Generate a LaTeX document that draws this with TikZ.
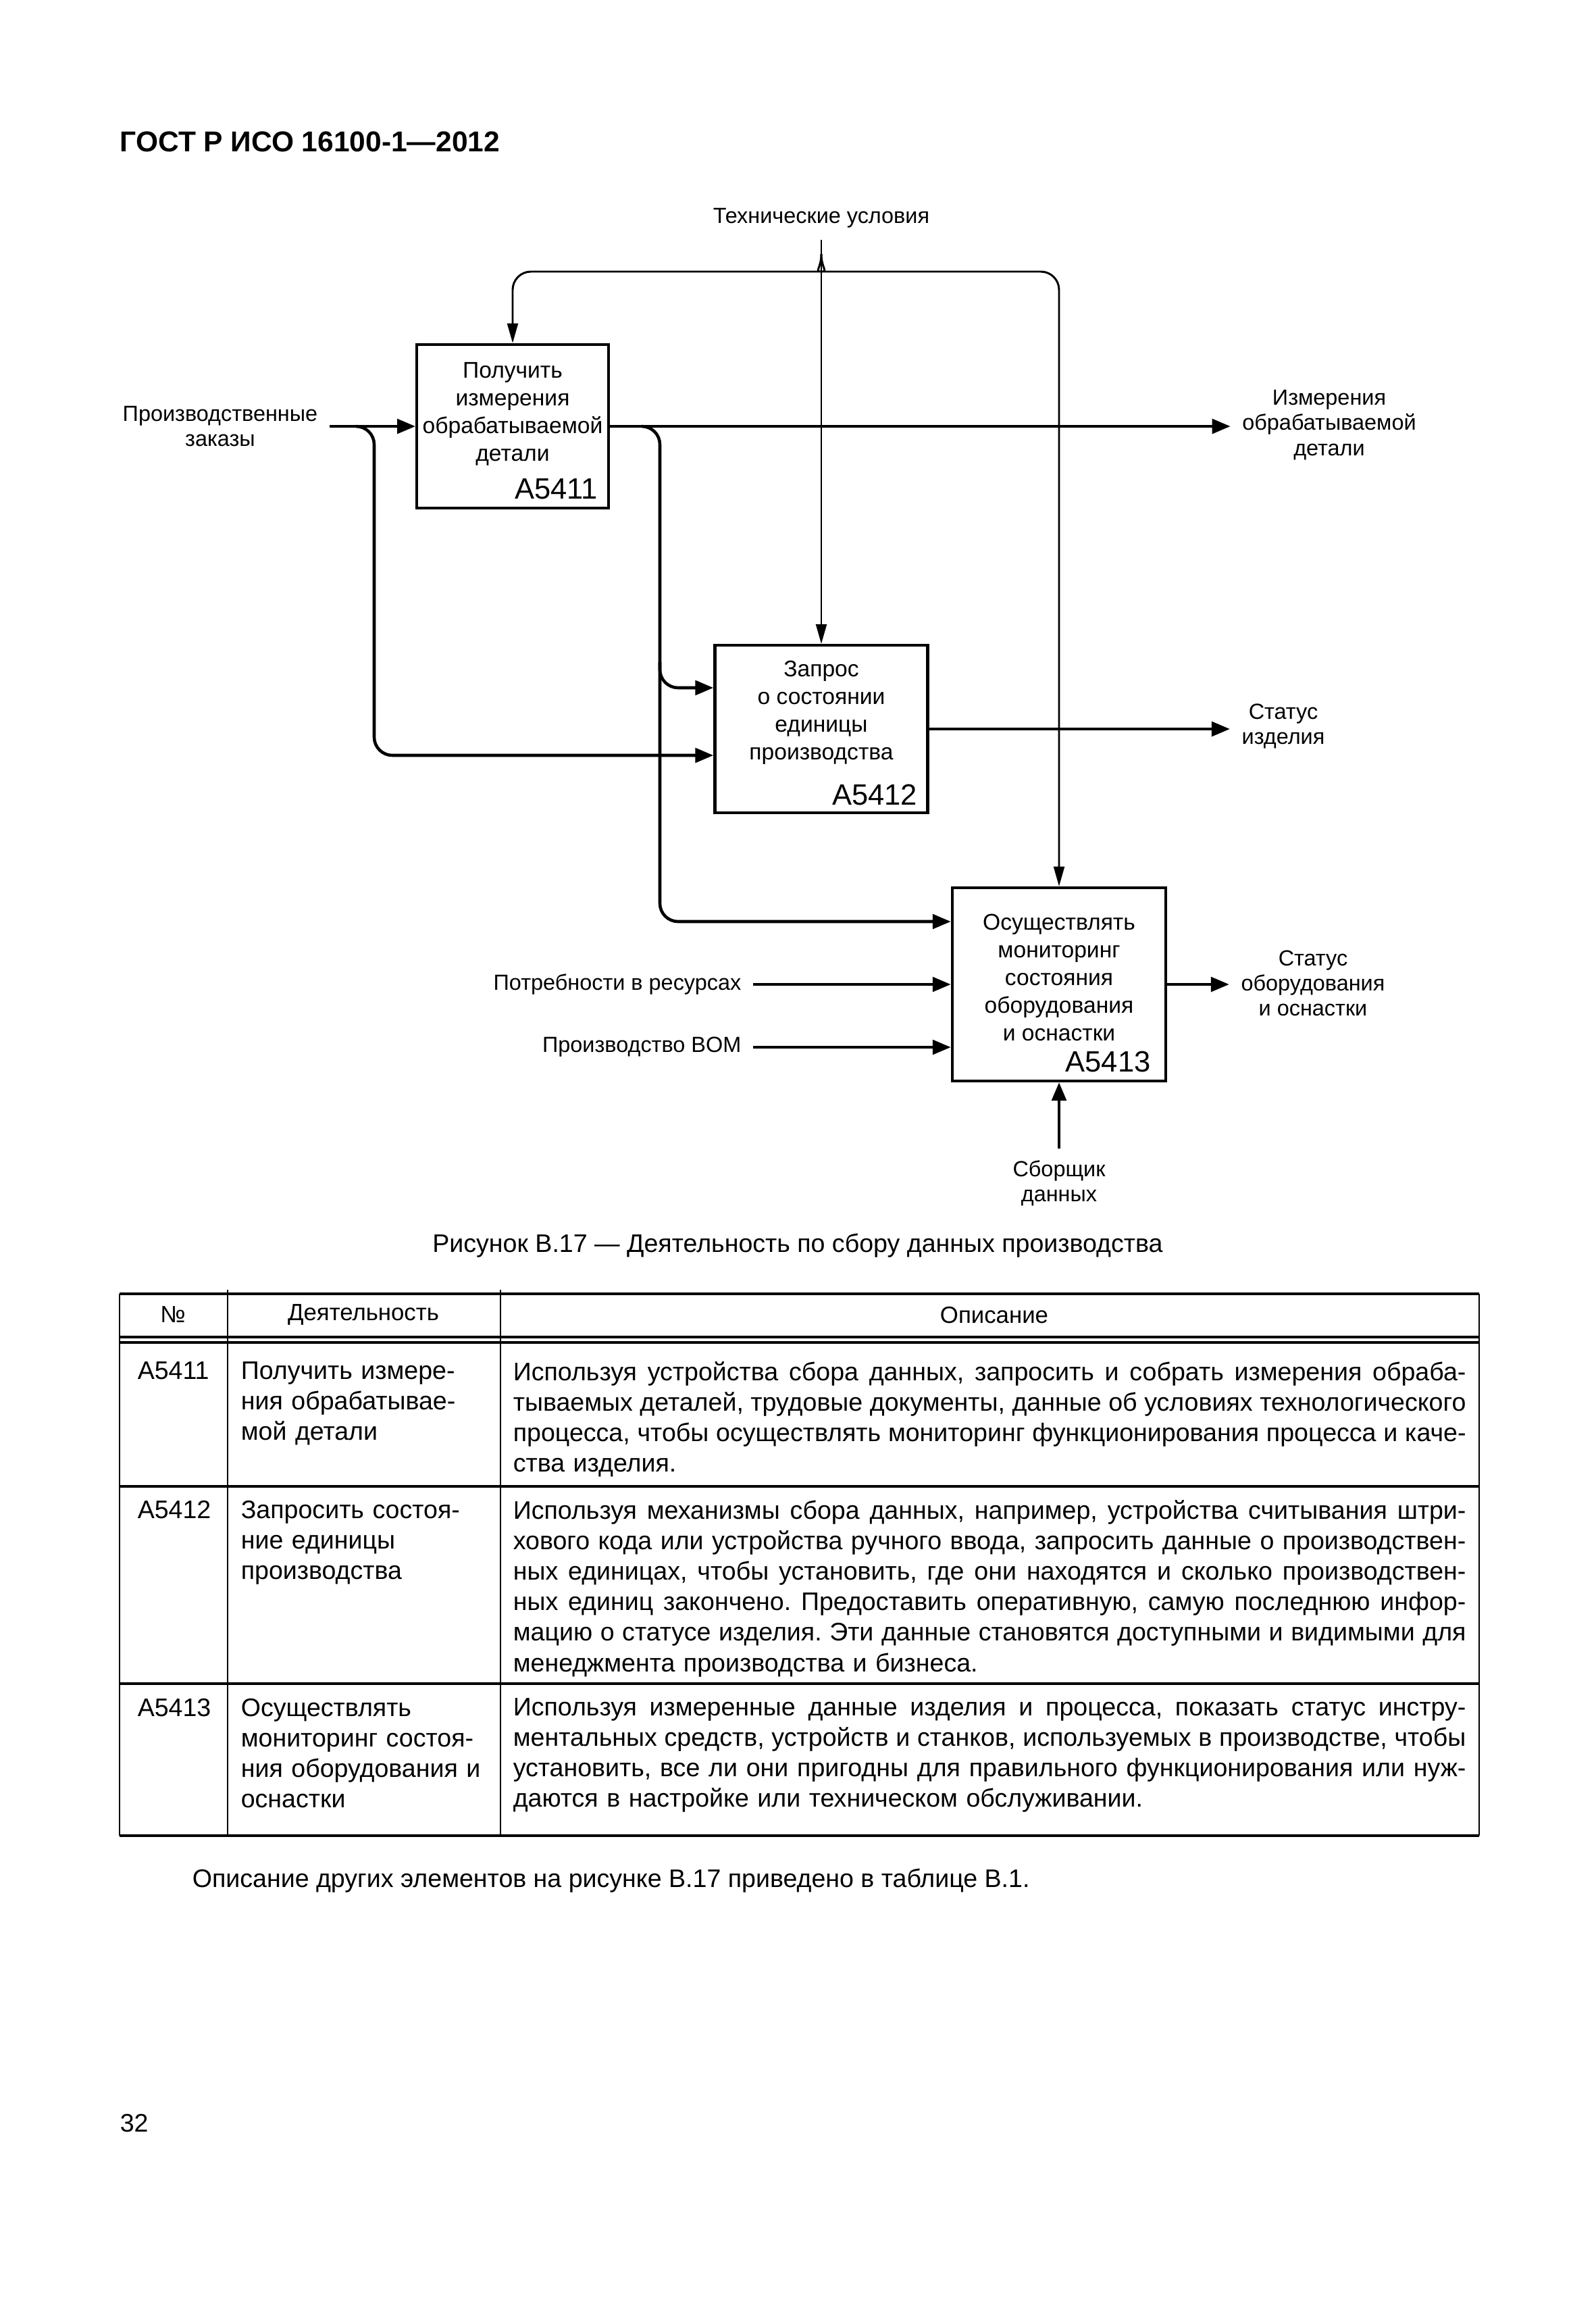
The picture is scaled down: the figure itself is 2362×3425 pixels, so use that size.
\documentclass[tikz,border=0pt]{standalone}
\usepackage{fontspec}
\setmainfont{Liberation Sans}
\usetikzlibrary{arrows.meta,positioning,calc}

\newcommand{\tfont}{\fontsize{9.5}{11.4}\selectfont\frenchspacing}
\newcommand{\jline}[1]{\leavevmode\hbox to\hsize{\spaceskip=.278em plus 1em minus .16em #1}}

\tikzset{
  box/.style={draw, line width=1.1pt, inner sep=0pt},
  btxt/.style={font=\fontsize{8.5}{10.4}\selectfont, align=center, inner sep=0pt},
  code/.style={font=\fontsize{11}{12}\selectfont, inner sep=0pt},
  lbl/.style={font=\fontsize{8.2}{9.4}\selectfont, align=center, inner sep=1.5mm},
  flow/.style={line width=1.15pt, rounded corners=2.4mm, -{Triangle[length=2.4mm,width=1.9mm]}},
  ctrl/.style={line width=0.75pt, rounded corners=2.4mm, -{Triangle[length=2.6mm,width=1.4mm]}},
  tline/.style={line width=0.9pt},
  vline/.style={line width=0.5pt},
  ttxt/.style={font=\tfont, inner sep=0pt},
  tpar/.style={font=\tfont, inner sep=0pt, align=left, anchor=north west},
}

\begin{document}
\begin{tikzpicture}[x=0.0889mm,y=-0.0889mm]
\useasboundingbox (0,0) rectangle (2362,3425);

\node[font=\fontsize{10.75}{13}\selectfont\bfseries, anchor=west, inner sep=0pt] (title) at (177,210) {ГОСТ Р ИСО 16100-1—2012};

\node[box, minimum width=25.2mm, minimum height=21.5mm] (a5411) at (759,631) {};
\node[box, minimum width=28mm, minimum height=22mm] (a5412) at (1216,1079) {};
\node[box, minimum width=28.1mm, minimum height=25.4mm] (a5413) at (1568,1457) {};

\node[btxt] (t5411) at (759,613) {Получить\\измерения\\обрабатываемой\\детали};
\node[btxt] (t5412) at (1216,1055) {Запрос\\о состоянии\\единицы\\производства};
\node[btxt] (t5413) at (1568,1447) {Осуществлять\\мониторинг\\состояния\\оборудования\\и оснастки};
\node[code, anchor=south east] (c5411) at ($(a5411.south east)+(-17,-14)$) {A5411};
\node[code, anchor=south east] (c5412) at ($(a5412.south east)+(-17,-12)$) {A5412};
\node[code, anchor=south east] (c5413) at ($(a5413.south east)+(-24,-14)$) {A5413};

\node[lbl] (spec) at (1216,323) {Технические условия};
\node[lbl] (orders) at (326,631) {Производственные\\заказы};
\node[lbl] (meas) at (1968,629) {Измерения\\обрабатываемой\\детали};
\node[lbl] (pstat) at (1900,1075) {Статус\\изделия};
\node[lbl] (estat) at (1944,1455) {Статус\\оборудования\\и оснастки};
\node[lbl, anchor=east] (needs) at (1115,1457) {Потребности в ресурсах};
\node[lbl, anchor=east] (bom) at (1115,1550) {Производство BOM};
\node[lbl] (collector) at (1568,1751) {Сборщик\\данных};

\coordinate (osplit) at (527,631);
\coordinate (msplit) at (950,631);
\coordinate (qsplit) at (977,980);
\coordinate (bsplit) at (1216,376);

\draw[ctrl] (spec.south) -- (spec.south |- a5412.north);
\draw[ctrl] (bsplit) .. controls (1216,396) and (1206,402) .. (1188,402) -- (a5411.north |- 0,402) -- (a5411.north);
\draw[ctrl] (bsplit) .. controls (1216,396) and (1226,402) .. (1244,402) -- (a5413.north |- 0,402) -- (a5413.north);

\draw[flow] (orders.east |- a5411.west) -- (a5411.west);
\draw[flow] (osplit) -| (554,1118) -- (a5412.west |- 0,1118);
\draw[flow] (a5411.east) -- (a5411.east -| meas.west);
\draw[flow] (msplit) -| (977,1364) -- (a5413.west |- 0,1364);
\draw[flow] (qsplit) |- (a5412.west |- 0,1018);
\draw[flow] (a5412.east) -- (a5412.east -| pstat.west);
\draw[flow] (a5413.east) -- (a5413.east -| estat.west);
\draw[flow] (needs.east) -- (needs.east -| a5413.west);
\draw[flow] (bom.east) -- (bom.east -| a5413.west);
\draw[flow] (collector.north) -- (collector.north |- a5413.south);

\node[ttxt] (caption) at (1181,1844) {Рисунок В.17 — Деятельность по сбору данных производства};

\foreach \y in {1915,1979,1987,2200,2492,2717}
  \draw[tline] (177,\y) -- (2190,\y);
\draw[vline] (177,1915) -- (177,2717) (2190,1915) -- (2190,2717);
\draw[vline] (337,1909) -- (337,2717) (741,1909) -- (741,2717);

\node[ttxt, font=\fontsize{8.8}{10}\selectfont] (hno) at (256,1946) {№};
\node[ttxt, font=\fontsize{8.8}{10}\selectfont] (hact) at (538,1946) {Деятельность};
\node[ttxt, font=\fontsize{8.8}{10}\selectfont] (hdesc) at (1472,1946) {Описание};

\node[ttxt, anchor=north west] (n1) at (203,2015) {A5411};
\node[tpar, text width=32.5mm] (p1) at (356,2015) {Получить измере-\\ния обрабатывае-\\мой детали};
\node[tpar, text width=125.4mm] (d1) at (759,2015) {\jline{Используя устройства сбора данных, запросить и собрать измерения обраба-}\\
\jline{тываемых деталей, трудовые документы, данные об условиях технологического}\\
\jline{процесса, чтобы осуществлять мониторинг функционирования процесса и каче-}\\
ства изделия.};

\node[ttxt, anchor=north west] (n2) at (203,2220) {A5412};
\node[tpar, text width=32.5mm] (p2) at (356,2220) {Запросить состоя-\\ние единицы\\производства};
\node[tpar, text width=125.4mm] (d2) at (759,2220) {\jline{Используя механизмы сбора данных, например, устройства считывания штри-}\\
\jline{хового кода или устройства ручного ввода, запросить данные о производствен-}\\
\jline{ных единицах, чтобы установить, где они находятся и сколько производствен-}\\
\jline{ных единиц закончено. Предоставить оперативную, самую последнюю инфор-}\\
\jline{мацию о статусе изделия. Эти данные становятся доступными и видимыми для}\\
менеджмента производства и бизнеса.};

\node[ttxt, anchor=north west] (n3) at (203,2513) {A5413};
\node[tpar, text width=32.5mm] (p3) at (356,2513) {Осуществлять\\мониторинг состоя-\\ния оборудования и\\оснастки};
\node[tpar, text width=125.4mm] (d3) at (759,2513) {\jline{Используя измеренные данные изделия и процесса, показать статус инстру-}\\
\jline{ментальных средств, устройств и станков, используемых в производстве, чтобы}\\
\jline{установить, все ли они пригодны для правильного функционирования или нуж-}\\
даются в настройке или техническом обслуживании.};

\node[ttxt, anchor=west] (note) at (284,2784) {Описание других элементов на рисунке В.17 приведено в таблице В.1.};
\node[ttxt, anchor=west] (page) at (177,3143) {32};
\end{tikzpicture}
\end{document}
